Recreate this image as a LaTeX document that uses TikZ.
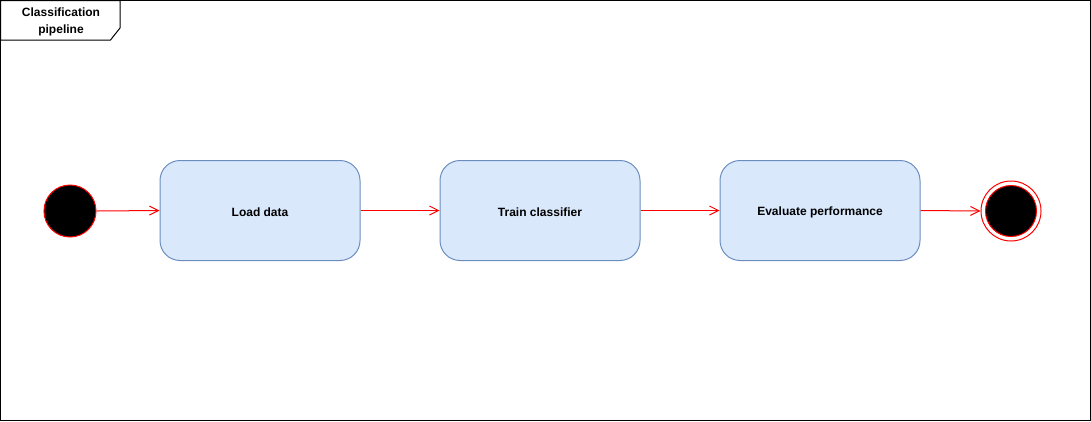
\documentclass[tikz,border=0pt]{standalone}
\usepackage{fontspec}
\setmainfont{Liberation Sans}
\usetikzlibrary{arrows.meta}
\definecolor{boxfill}{HTML}{DAE8FC}
\definecolor{boxdraw}{HTML}{6C8EBF}
\definecolor{flowred}{HTML}{FF0000}
\tikzset{
  actbox/.style={draw=boxdraw, fill=boxfill, rounded corners=20pt, minimum width=200pt, minimum height=100pt, line width=1pt},
  boxtext/.style={font=\bfseries\fontsize{12}{14}\selectfont},
  flow/.style={draw=flowred, line width=1pt, -{Straight Barb[length=9pt,width=9pt]}},
}
\begin{document}
\begin{tikzpicture}[x=1pt,y=-1pt]
\useasboundingbox (0,0) rectangle (1091,421);
\draw[line width=1pt] (0.5,0.5) rectangle (1090.5,420.5);
\draw[line width=1pt, fill=white] (0.5,0.5) -- (120,0.5) -- (120,28) -- (110.5,40) -- (0.5,40) -- cycle;
\node[font=\bfseries\fontsize{12}{17}\selectfont, align=center] (title) at (61,22) {Classification\\pipeline};
\node[circle, draw=flowred, fill=black, minimum size=52pt, inner sep=0pt, line width=1pt] (start) at (70,211) {};
\node[actbox] (load) at (260,210.5) {};
\node[actbox] (train) at (540,210.5) {};
\node[actbox] (eval) at (820,210.5) {};
\node[boxtext] (loadt) at (260,212.5) {Load data};
\node[boxtext] (traint) at (540,212.5) {Train classifier};
\node[boxtext] (evalt) at (820,212.5) {Evaluate performance};
\node[circle, draw=flowred, fill=white, minimum size=60pt, inner sep=0pt, line width=1pt] (endo) at (1011,211) {};
\node[circle, draw=flowred, fill=black, minimum size=51pt, inner sep=0pt, line width=1pt] (endi) at (1011,211) {};
\draw[flow] (start.east) -- (load.west);
\draw[flow] (load.east) -- (train.west);
\draw[flow] (train.east) -- (eval.west);
\draw[flow] (eval.east) -- (endo.west);
\end{tikzpicture}
\end{document}
